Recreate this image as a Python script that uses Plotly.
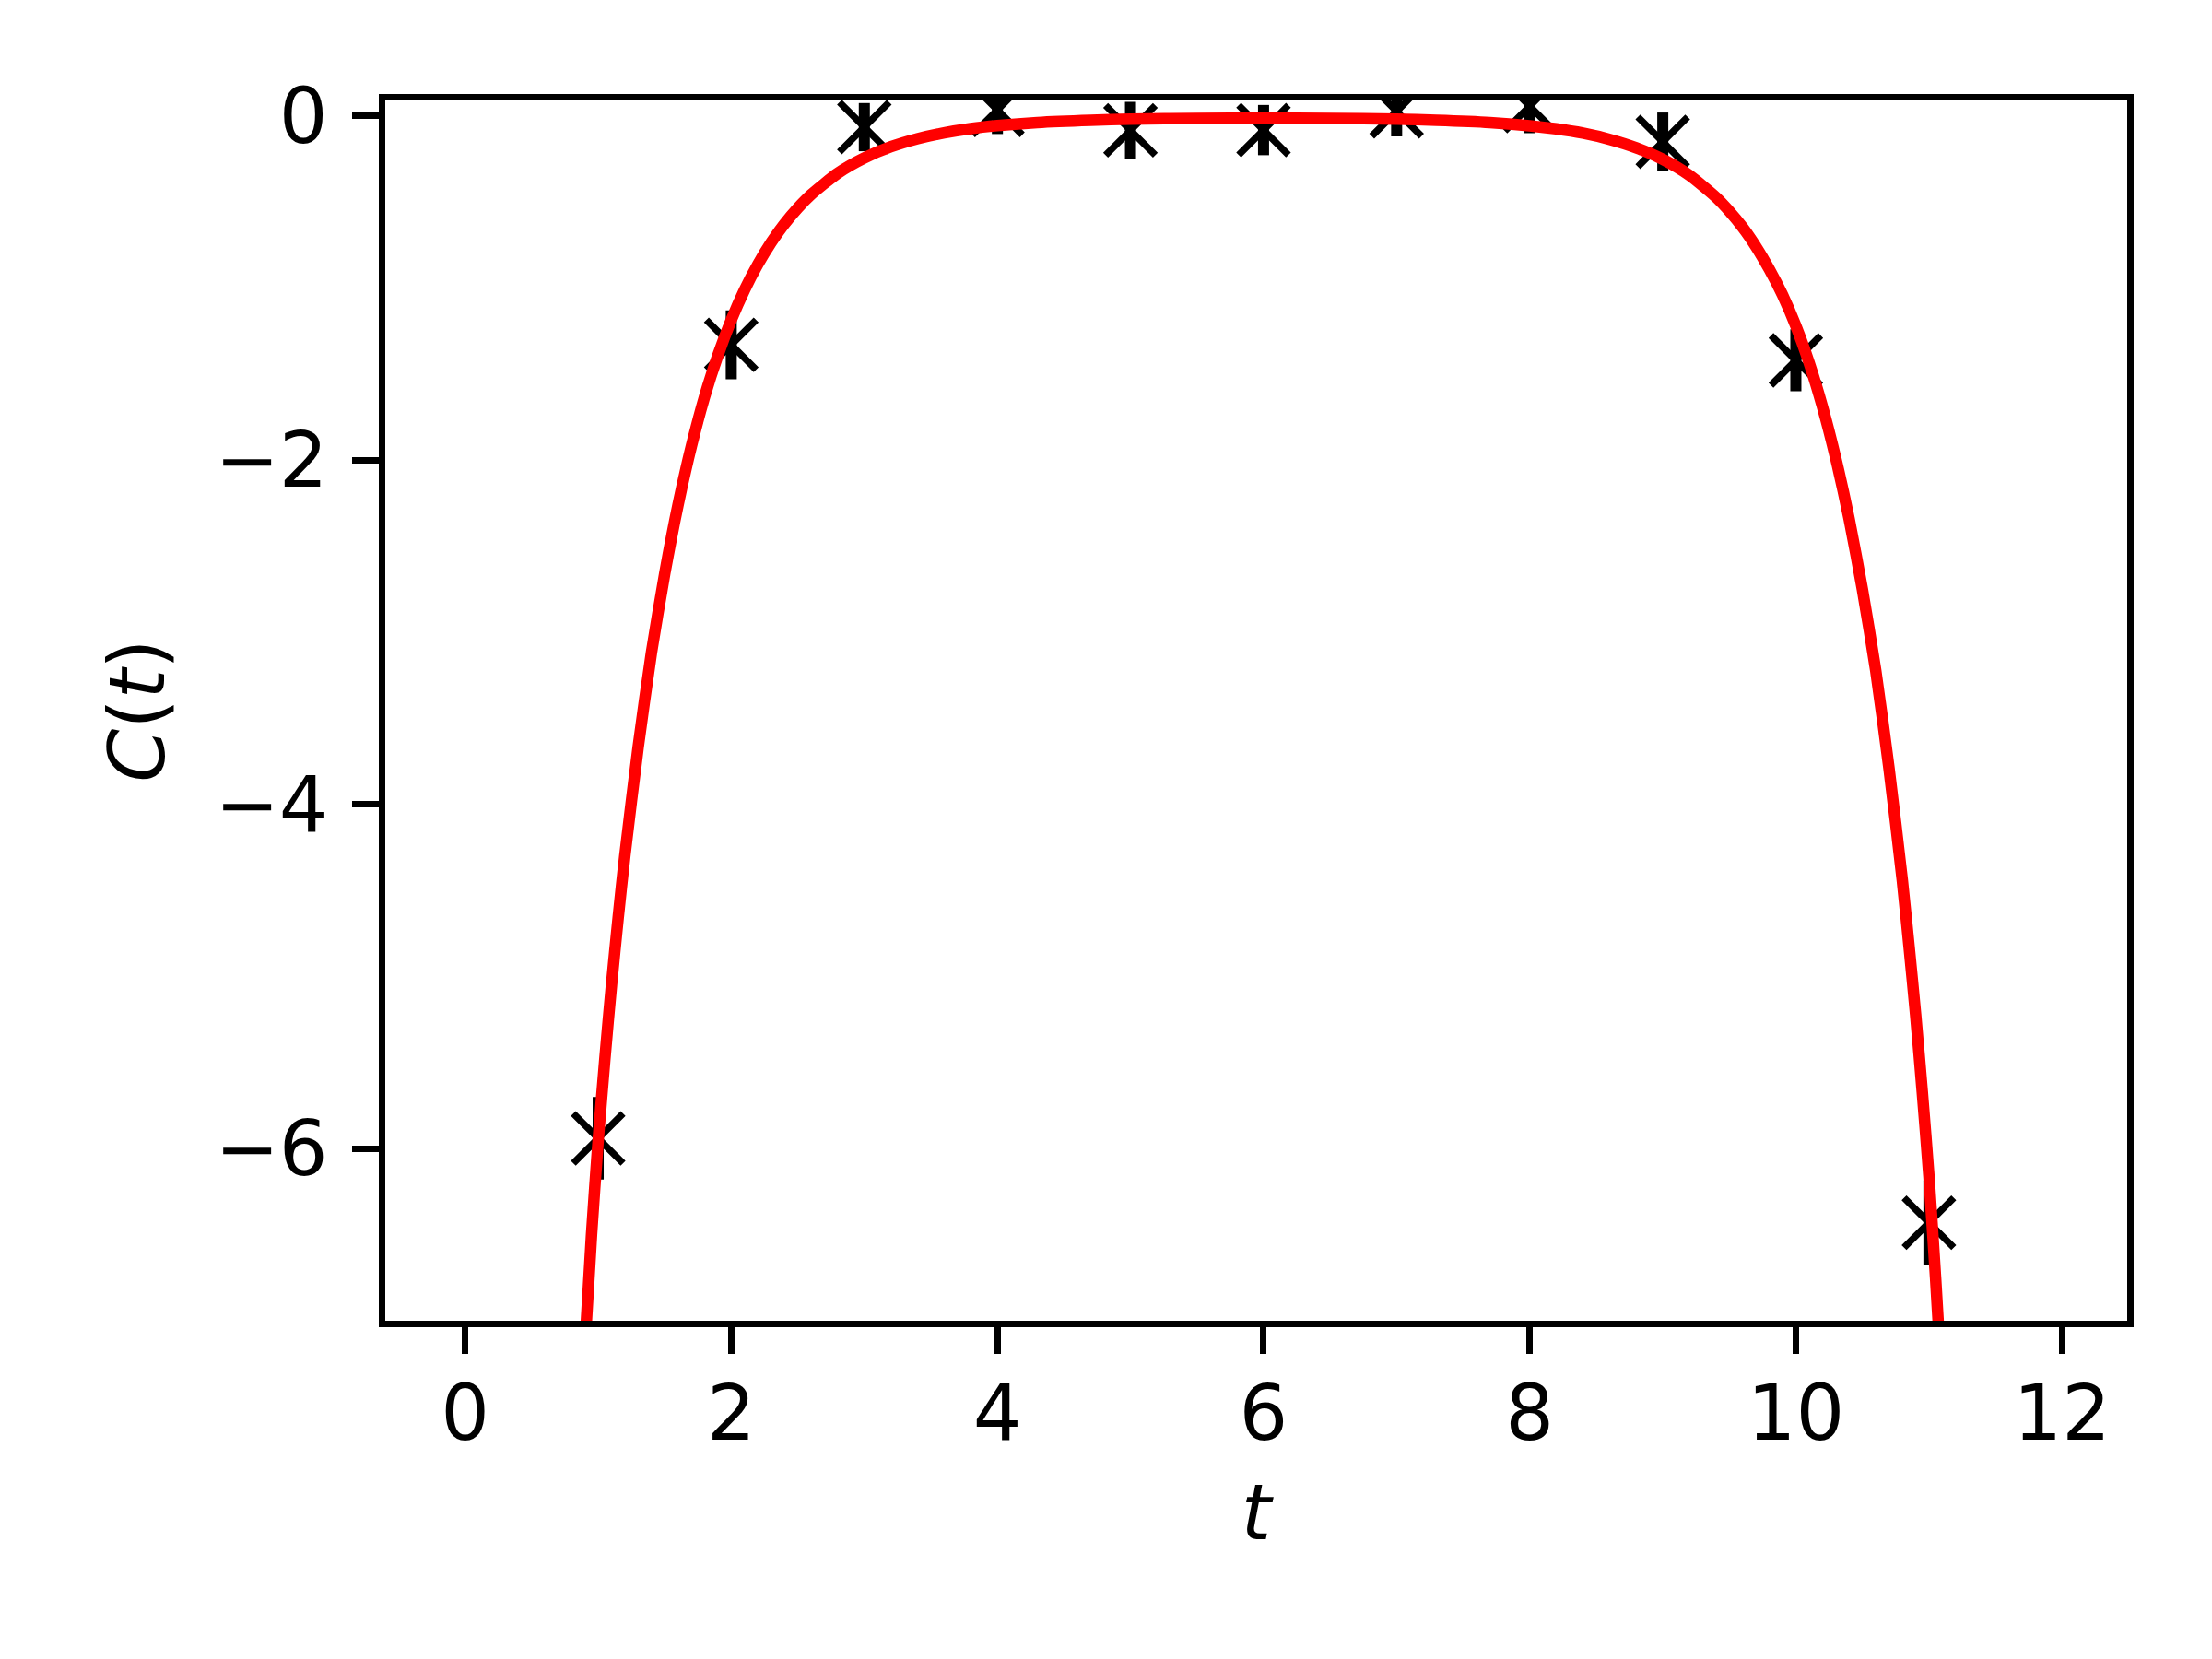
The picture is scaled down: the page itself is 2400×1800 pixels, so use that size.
import plotly.graph_objects as go

# measured data points (t, C(t)) with symmetric error bars
t_points = [1, 2, 3, 4, 5, 6, 7, 8, 9, 10, 11]
c_points = [-5.94, -1.33, -0.065, 0.035, -0.083, -0.082, 0.027, 0.057, -0.15, -1.42, -6.43]
c_errors = [0.24, 0.20, 0.14, 0.14, 0.165, 0.146, 0.146, 0.157, 0.17, 0.18, 0.245]

# fitted curve
fit_t = [0.90, 0.95, 1.00, 1.05, 1.10, 1.15, 1.20, 1.30, 1.40, 1.50, 1.60, 1.70, 1.80, 1.90, 2.00,
         2.10, 2.20, 2.30, 2.40, 2.50, 2.60, 2.80, 3.00, 3.20, 3.40, 3.60, 3.80, 4.00, 4.30, 4.70,
         5.00, 5.50, 6.00, 6.50, 7.00, 7.30, 7.70, 8.00, 8.20, 8.40, 8.60, 8.80, 9.00, 9.20, 9.40,
         9.50, 9.60, 9.70, 9.80, 9.90, 10.00, 10.10, 10.20, 10.30, 10.40, 10.50, 10.60, 10.70, 10.80,
         10.85, 10.90, 10.95, 11.00, 11.05, 11.10]
fit_c = [-7.15, -6.50, -5.95, -5.48, -5.05, -4.66, -4.30, -3.67, -3.12, -2.66, -2.26, -1.92, -1.63, -1.39, -1.185,
         -1.01, -0.862, -0.735, -0.627, -0.535, -0.457, -0.333, -0.244, -0.179, -0.132, -0.098, -0.073, -0.056, -0.038, -0.025,
         -0.019, -0.014, -0.0125, -0.014, -0.019, -0.025, -0.038, -0.057, -0.075, -0.100, -0.136, -0.185, -0.252, -0.344, -0.472,
         -0.553, -0.647, -0.759, -0.89, -1.04, -1.22, -1.435, -1.69, -1.99, -2.34, -2.75, -3.22, -3.79, -4.44,
         -4.82, -5.22, -5.67, -6.16, -6.75, -7.40]

x_ticks = [0, 2, 4, 6, 8, 10, 12]
x_ticklabels = ["0", "2", "4", "6", "8", "10", "12"]
y_ticks = [0, -2, -4, -6]
y_ticklabels = ["0", "\u22122", "\u22124", "\u22126"]

FONT = "DejaVu Sans"
FS = 83
LW = 6.5

fig = go.Figure()
fig.add_trace(go.Scatter(
    x=t_points, y=c_points, mode="markers",
    marker=dict(symbol="x-thin", size=54, color="black", line=dict(color="black", width=7.5)),
    error_y=dict(type="data", array=c_errors, visible=True, color="black", thickness=12, width=0),
    showlegend=False, cliponaxis=True,
))
fig.add_trace(go.Scatter(
    x=fit_t, y=fit_c, mode="lines",
    line=dict(color="#ff0000", width=12.5, shape="spline", smoothing=0.6),
    showlegend=False,
))

axis_common = dict(
    showline=True, linecolor="black", linewidth=LW, mirror=True,
    ticks="outside", ticklen=29, tickwidth=LW, tickcolor="black",
    showgrid=False, zeroline=False,
    tickfont=dict(family=FONT, size=FS, color="black"),
)
fig.update_xaxes(range=[-0.6, 12.49], tickmode="array", tickvals=x_ticks, ticktext=x_ticklabels,
                 title=dict(text="<i>t</i>", font=dict(family=FONT, size=FS, color="black"), standoff=33),
                 ticklabelstandoff=-6,
                 **axis_common)
fig.update_yaxes(range=[-7.0, 0.09], tickmode="array", tickvals=y_ticks, ticktext=y_ticklabels,
                 title=dict(text="<i>C</i>(<i>t</i>)", font=dict(family=FONT, size=FS, color="black"), standoff=30),
                 ticklabelstandoff=10,
                 **axis_common)
fig.update_layout(
    width=2400, height=1800,
    margin=dict(l=410, r=100, t=101, b=375, autoexpand=False),
    plot_bgcolor="white", paper_bgcolor="white",
    font=dict(family=FONT, size=FS, color="black"),
)
fig.write_html("out.html")
